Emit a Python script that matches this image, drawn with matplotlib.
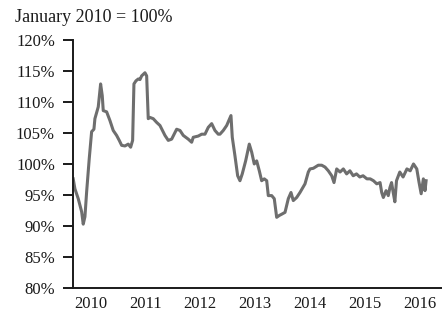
import numpy as np
import matplotlib
matplotlib.use('Agg')
import matplotlib.pyplot as plt
from matplotlib.ticker import FuncFormatter

# Index level, January 2010 = 100
t = [2009.682, 2009.713, 2009.774, 2009.836, 2009.865, 2009.896, 2009.927, 2009.974,
     2010.018, 2010.060, 2010.078, 2010.139, 2010.182, 2010.212, 2010.230, 2010.292,
     2010.352, 2010.412, 2010.474, 2010.522, 2010.566, 2010.626, 2010.686, 2010.730,
     2010.766, 2010.790, 2010.827, 2010.869, 2010.900, 2010.931, 2010.991, 2011.022,
     2011.051, 2011.082, 2011.142, 2011.204, 2011.265, 2011.356, 2011.416, 2011.478,
     2011.569, 2011.630, 2011.690, 2011.781, 2011.843, 2011.872, 2011.964, 2012.026,
     2012.086, 2012.146, 2012.208, 2012.268, 2012.328, 2012.359, 2012.420, 2012.482,
     2012.560, 2012.584, 2012.633, 2012.682, 2012.724, 2012.766, 2012.828, 2012.894,
     2012.938, 2012.985, 2013.029, 2013.077, 2013.120, 2013.168, 2013.212, 2013.241,
     2013.303, 2013.350, 2013.394, 2013.442, 2013.485, 2013.546, 2013.606, 2013.655,
     2013.697, 2013.759, 2013.819, 2013.911, 2013.971, 2014.002, 2014.062, 2014.153,
     2014.215, 2014.276, 2014.336, 2014.398, 2014.440, 2014.489, 2014.55, 2014.61,
     2014.67, 2014.73, 2014.79, 2014.85, 2014.91, 2014.97, 2015.04, 2015.10,
     2015.16, 2015.22, 2015.28, 2015.31, 2015.34, 2015.39, 2015.43, 2015.46,
     2015.49, 2015.52, 2015.55, 2015.58, 2015.64, 2015.70, 2015.77, 2015.83,
     2015.89, 2015.95, 2015.99, 2016.03, 2016.07, 2016.10, 2016.12]
val = [97.6, 96.0, 94.4, 92.3, 90.3, 91.5, 95.5, 100.8,
       105.2, 105.6, 107.3, 109.2, 112.9, 111.0, 108.6, 108.4,
       107.0, 105.4, 104.6, 103.8, 103.0, 102.9, 103.2, 102.7,
       103.8, 112.9, 113.4, 113.7, 113.6, 114.2, 114.7, 114.2,
       107.3, 107.5, 107.3, 106.7, 106.2, 104.6, 103.8, 104.0,
       105.6, 105.4, 104.6, 104.0, 103.5, 104.3, 104.5, 104.8,
       104.8, 105.9, 106.5, 105.4, 104.8, 104.8, 105.4, 106.2,
       107.8, 104.3, 101.3, 98.1, 97.3, 98.4, 100.5, 103.2,
       101.9, 100.0, 100.5, 98.9, 97.3, 97.6, 97.3, 94.9,
       94.9, 94.4, 91.4, 91.7, 91.9, 92.2, 94.4, 95.4,
       94.1, 94.6, 95.4, 96.8, 98.7, 99.2, 99.3, 99.8,
       99.8, 99.5, 98.9, 98.1, 97.0, 99.2, 98.7, 99.2,
       98.4, 98.9, 98.1, 98.4, 97.9, 98.1, 97.6, 97.6,
       97.3, 96.8, 97.0, 95.4, 94.6, 95.7, 94.9, 96.2,
       97.0, 95.4, 93.9, 97.3, 98.7, 97.9, 99.2, 98.9,
       100.0, 99.2, 97.1, 95.2, 97.6, 95.7, 97.3]

years = [2010, 2011, 2012, 2013, 2014, 2015, 2016]
yticks = [80, 85, 90, 95, 100, 105, 110, 115, 120]

plt.rcParams['font.family'] = ['Liberation Serif', 'DejaVu Serif']

fig = plt.figure(figsize=(4.42, 3.19), dpi=100)
ax = fig.add_axes([0.165, 0.097, 0.835, 0.778])

ax.plot(t, val, color='#6e6e6e', linewidth=2.2, solid_joinstyle='round')

ax.set_xlim(2009.677, 2016.41)
ax.set_ylim(80, 120)
ax.set_xticks(years)
ax.set_yticks(yticks)
ax.yaxis.set_major_formatter(FuncFormatter(lambda v, p: f'{v:.0f}%'))

for s in ['top', 'right']:
    ax.spines[s].set_visible(False)
for s in ['left', 'bottom']:
    ax.spines[s].set_linewidth(1.4)
    ax.spines[s].set_color('#1a1a1a')

ax.tick_params(axis='y', direction='out', length=7, width=1.4, pad=6,
               labelsize=12, colors='#1a1a1a')
ax.tick_params(axis='x', length=0, pad=6, labelsize=12, colors='#1a1a1a')

fig.text(0.034, 0.945, 'January 2010 = 100%', fontsize=13, color='#1a1a1a',
         ha='left', va='center')

fig.savefig('out.png', dpi=100)
